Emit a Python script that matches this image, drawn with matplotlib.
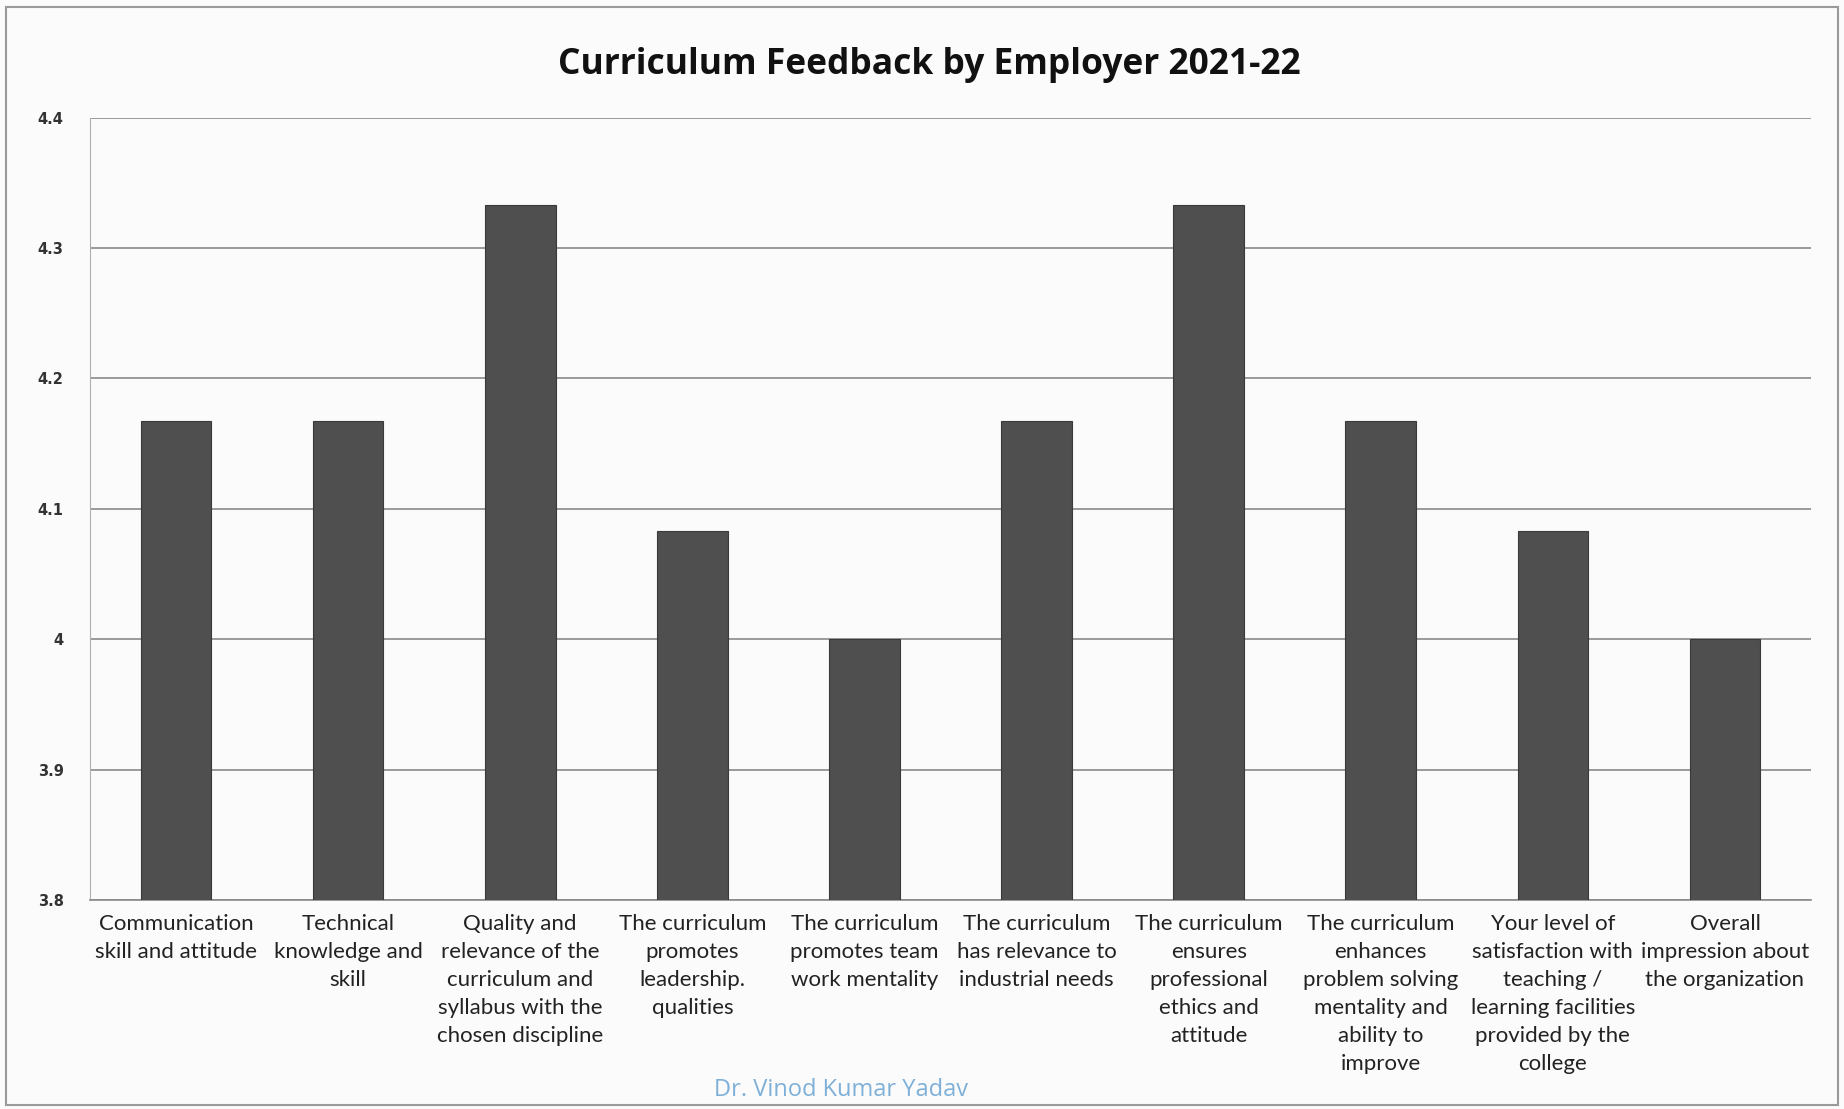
import matplotlib.pyplot as plt
from matplotlib.patches import Rectangle

# data
categories = [
    "Communication\nskill and attitude",
    "Technical\nknowledge and\nskill",
    "Quality and\nrelevance of the\ncurriculum and\nsyllabus with the\nchosen discipline",
    "The curriculum\npromotes\nleadership.\nqualities",
    "The curriculum\npromotes team\nwork mentality",
    "The curriculum\nhas relevance to\nindustrial needs",
    "The curriculum\nensures\nprofessional\nethics and\nattitude",
    "The curriculum\nenhances\nproblem solving\nmentality and\nability to\nimprove",
    "Your level of\nsatisfaction with\nteaching /\nlearning facilities\nprovided by the\ncollege",
    "Overall\nimpression about\nthe organization",
]
scores = [4.167, 4.167, 4.333, 4.083, 4.0, 4.167, 4.333, 4.167, 4.083, 4.0]
y_ticks = [3.8, 3.9, 4.0, 4.1, 4.2, 4.3, 4.4]
y_tick_labels = ["3.8", "3.9", "4", "4.1", "4.2", "4.3", "4.4"]

fig = plt.figure(figsize=(18.44, 11.09), dpi=100)
fig.patch.set_facecolor("#fbfbfc")
ax = fig.add_axes([0.0488, 0.1885, 0.9333, 0.7055])
ax.set_facecolor("#fbfbfc")

x = list(range(len(categories)))
ax.bar(x, scores, width=0.41, color="#4f4f4f", edgecolor="#3a3a3a", linewidth=0.8, zorder=3)

ax.set_ylim(3.8, 4.4)
ax.set_xlim(-0.5, len(categories) - 0.5)
ax.set_yticks(y_ticks)
ax.set_yticklabels(y_tick_labels, fontsize=10.5, color="#333333", fontweight="bold")
ax.yaxis.grid(True, color="#8a8a8a", linewidth=1.2, zorder=0)
ax.tick_params(axis="y", length=0, pad=19)

ax.set_xticks(x)
ax.set_xticklabels(categories, fontsize=16, color="#222222", family=["Lato", "DejaVu Sans"],
                   linespacing=1.5, va="top")
ax.tick_params(axis="x", length=0, pad=10)

for side in ["top", "right"]:
    ax.spines[side].set_visible(False)
ax.spines["left"].set_color("#b0b0b0")
ax.spines["bottom"].set_color("#8a8a8a")
ax.spines["bottom"].set_linewidth(1.2)

fig.text(0.504, 0.941, "Curriculum Feedback by Employer 2021-22", ha="center", va="center",
         fontsize=25.5, fontweight="bold", family=["Open Sans", "DejaVu Sans"], color="#111111")

fig.text(0.456, 0.006, "Dr. Vinod Kumar Yadav", ha="center", va="bottom",
         fontsize=17, color="#7fb0d8", family=["Open Sans", "DejaVu Sans"])

# page frame from the scan
fig.add_artist(Rectangle((0.003, 0.004), 0.994, 0.99, transform=fig.transFigure,
                         fill=False, edgecolor="#9a9a9a", linewidth=1.5))

fig.savefig("out.png", dpi=100, facecolor=fig.get_facecolor())
